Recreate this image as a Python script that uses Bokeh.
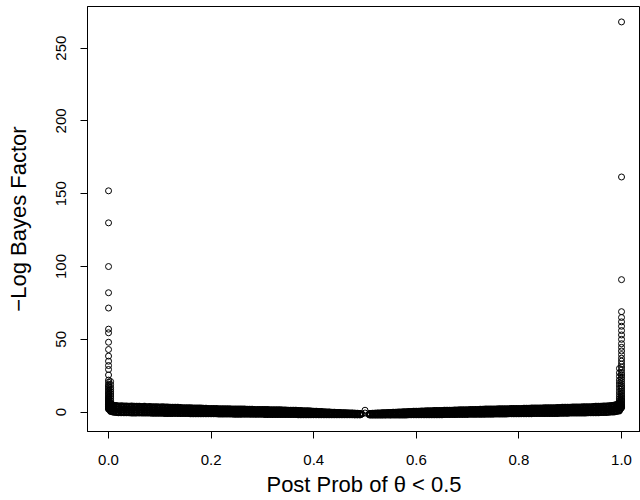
from bokeh.plotting import figure
from bokeh.models import Range1d, FixedTicker
from bokeh.embed import file_html
from bokeh.resources import INLINE

# ---------------- data ----------------
x_ticks = [0.0, 0.2, 0.4, 0.6, 0.8, 1.0]
x_tick_labels = ["0.0", "0.2", "0.4", "0.6", "0.8", "1.0"]
y_ticks = [0, 50, 100, 150, 200, 250]
y_tick_labels = ["0", "50", "100", "150", "200", "250"]
x_title = "Post Prob of θ < 0.5"
y_title = "\u2212Log Bayes Factor"

# points stacked at posterior probability 0
col0_y = [152, 130, 100, 82, 71.5, 57, 54.5, 48, 43, 38.5, 35, 32, 29.3, 25.5, 22,
          20.5, 19, 18, 17, 16, 15, 14, 13, 12.2, 11.4, 10.6, 9.8, 9.1, 8.4, 7.8,
          7.2, 6.6, 6.0, 5.5, 5.0, 4.5, 4.0, 3.6, 3.2, 2.8, 2.4, 2.0]
col0b_x = 0.004
col0b_y = [21, 19, 17, 15.5, 14, 12.5, 11, 9.5, 8, 6.8, 5.6, 4.6, 3.6, 2.8]
# points stacked at posterior probability 1
col1_y = [268, 161.5, 91, 69, 65, 62, 59, 56, 53, 50, 47, 44.5, 42, 39.5, 37, 35, 33,
          31, 29, 27, 25.5, 24, 22.5, 21, 19.5, 18, 16.8, 15.6, 14.4, 13.2, 12, 11,
          10, 9, 8.2, 7.4, 6.6, 5.9, 5.2, 4.6, 4.0, 3.5, 3.0]
col1b_x = 0.996
col1b_y = [30, 27, 24.5, 22, 20, 18, 16, 14, 12.2, 10.6, 9.2, 8, 6.9, 5.9, 5, 4.2, 3.4]

corner_x = [0.001, 0.002, 0.003, 0.997, 0.998, 0.999]
corner_y = [2.2, 1.7, 1.3, 1.8, 2.3, 2.8]

band_left_x = [0.005, 0.010, 0.015, 0.020, 0.025, 0.030, 0.035, 0.040, 0.045, 0.050,
               0.055, 0.060, 0.065, 0.070, 0.075, 0.080, 0.085, 0.090, 0.095, 0.100,
               0.105, 0.110, 0.115, 0.120, 0.125, 0.130, 0.135, 0.140, 0.145, 0.150,
               0.155, 0.160, 0.165, 0.170, 0.175, 0.180, 0.185, 0.190, 0.195, 0.200,
               0.205, 0.210, 0.215, 0.220, 0.225, 0.230, 0.235, 0.240, 0.245, 0.250,
               0.255, 0.260, 0.265, 0.270, 0.275, 0.280, 0.285, 0.290, 0.295, 0.300,
               0.305, 0.310, 0.315, 0.320, 0.325, 0.330, 0.335, 0.340, 0.345, 0.350,
               0.355, 0.360, 0.365, 0.370, 0.375, 0.380, 0.385, 0.390, 0.395, 0.400,
               0.405, 0.410, 0.415, 0.420, 0.425, 0.430, 0.435, 0.440, 0.445, 0.450,
               0.455, 0.460, 0.465, 0.470, 0.475, 0.480, 0.485, 0.490]
band_left_top = [5.5, 4.6, 4.3, 4.1, 4.2, 4.0, 4.1, 3.9, 4.0, 3.8,
                 3.9, 3.8, 3.7, 3.8, 3.6, 3.7, 3.5, 3.6, 3.5, 3.4,
                 3.5, 3.3, 3.3, 3.2, 3.2, 3.1, 3.1, 3.0, 2.9, 2.9,
                 2.8, 2.8, 2.7, 2.7, 2.6, 2.6, 2.5, 2.5, 2.4, 2.4,
                 2.3, 2.3, 2.2, 2.2, 2.2, 2.1, 2.1, 2.0, 2.0, 2.0,
                 1.9, 1.9, 1.9, 1.8, 1.8, 1.8, 1.7, 1.7, 1.7, 1.6,
                 1.6, 1.6, 1.5, 1.5, 1.4, 1.4, 1.4, 1.3, 1.3, 1.2,
                 1.2, 1.1, 1.1, 1.0, 1.0, 0.8, 0.7, 0.7, 0.6, 0.5,
                 0.4, 0.3, 0.2, 0.1, 0.0, -0.1, -0.2, -0.3, -0.4, -0.5,
                 -0.6, -0.6, -0.7, -0.8, -0.8, -0.9, -1.0, -1.1]
band_left_hi = [4.5, 3.8, 3.5, 3.4, 3.3, 3.4, 3.2, 3.3, 3.1, 3.1,
                3.2, 3.0, 3.0, 2.9, 3.0, 2.8, 2.8, 2.7, 2.8, 2.6,
                2.6, 2.5, 2.6, 2.4, 2.3, 2.4, 2.2, 2.2, 2.1, 2.0,
                2.1, 1.9, 1.9, 1.8, 1.7, 1.8, 1.6, 1.6, 1.5, 1.5,
                1.6, 1.4, 1.4, 1.3, 1.4, 1.3, 1.2, 1.3, 1.2, 1.2,
                1.1, 1.2, 1.1, 1.1, 1.0, 1.1, 1.0, 1.0, 0.9, 1.0,
                0.9, 0.9, 0.8, 0.9, 0.8, 0.7, 0.8, 0.7, 0.7, 0.6,
                0.6, 0.5, 0.5, 0.4, 0.4, 0.3, 0.3, 0.2, 0.2, 0.1,
                0.0, -0.1, -0.1, -0.2, -0.3, -0.3, -0.4, -0.5, -0.5, -0.6,
                -0.7, -0.7, -0.8, -0.9, -0.9, -1.0, -1.1, -1.2]
band_left_mid = [2.8, 2.2, 1.9, 1.9, 1.7, 1.8, 1.7, 1.8, 1.6, 1.6,
                 1.7, 1.5, 1.6, 1.4, 1.5, 1.4, 1.4, 1.3, 1.4, 1.2,
                 1.3, 1.2, 1.2, 1.1, 1.1, 1.1, 1.0, 1.0, 0.9, 0.9,
                 0.9, 0.8, 0.8, 0.7, 0.7, 0.7, 0.6, 0.6, 0.5, 0.5,
                 0.6, 0.5, 0.4, 0.4, 0.4, 0.4, 0.3, 0.3, 0.3, 0.3,
                 0.2, 0.3, 0.2, 0.2, 0.1, 0.2, 0.1, 0.1, 0.0, 0.1,
                 0.0, 0.0, -0.1, 0.0, -0.1, -0.1, -0.1, -0.2, -0.2, -0.2,
                 -0.3, -0.3, -0.3, -0.4, -0.4, -0.4, -0.4, -0.5, -0.5, -0.6,
                 -0.6, -0.7, -0.7, -0.7, -0.8, -0.8, -0.9, -0.9, -1.0, -1.0,
                 -1.1, -1.1, -1.1, -1.2, -1.2, -1.3, -1.3, -1.4]
band_left_lo = [1.0, 0.6, 0.4, 0.3, 0.3, 0.2, 0.3, 0.2, 0.2, 0.1,
                0.2, 0.1, 0.1, 0.0, 0.1, 0.0, 0.0, -0.1, 0.0, -0.1,
                -0.1, -0.1, -0.2, -0.1, -0.2, -0.2, -0.2, -0.3, -0.2, -0.3,
                -0.3, -0.3, -0.3, -0.4, -0.3, -0.4, -0.4, -0.4, -0.5, -0.4,
                -0.5, -0.5, -0.5, -0.5, -0.6, -0.5, -0.6, -0.6, -0.6, -0.7,
                -0.6, -0.7, -0.7, -0.7, -0.7, -0.8, -0.7, -0.8, -0.8, -0.8,
                -0.9, -0.8, -0.9, -0.9, -0.9, -1.0, -0.9, -1.0, -1.0, -1.0,
                -1.1, -1.0, -1.1, -1.1, -1.1, -1.2, -1.1, -1.2, -1.2, -1.2,
                -1.3, -1.2, -1.3, -1.3, -1.3, -1.4, -1.3, -1.4, -1.4, -1.4,
                -1.5, -1.4, -1.5, -1.5, -1.5, -1.6, -1.6, -1.6]
band_left_bot = [0.6, 0.1, -0.1, -0.2, -0.2, -0.3, -0.3, -0.3, -0.4, -0.4,
                 -0.4, -0.4, -0.5, -0.5, -0.5, -0.5, -0.6, -0.6, -0.6, -0.6,
                 -0.6, -0.7, -0.7, -0.7, -0.7, -0.7, -0.8, -0.8, -0.8, -0.8,
                 -0.8, -0.9, -0.9, -0.9, -0.9, -0.9, -1.0, -1.0, -1.0, -1.0,
                 -1.0, -1.0, -1.1, -1.1, -1.1, -1.1, -1.1, -1.1, -1.2, -1.2,
                 -1.2, -1.2, -1.2, -1.2, -1.3, -1.3, -1.3, -1.3, -1.3, -1.3,
                 -1.4, -1.4, -1.4, -1.4, -1.4, -1.4, -1.5, -1.5, -1.5, -1.5,
                 -1.5, -1.5, -1.5, -1.6, -1.6, -1.6, -1.6, -1.6, -1.6, -1.6,
                 -1.6, -1.7, -1.7, -1.7, -1.7, -1.7, -1.7, -1.7, -1.7, -1.7,
                 -1.7, -1.7, -1.7, -1.7, -1.7, -1.7, -1.7, -1.7]

band_right_x = [0.510, 0.515, 0.520, 0.525, 0.530, 0.535, 0.540, 0.545, 0.550, 0.555,
                0.560, 0.565, 0.570, 0.575, 0.580, 0.585, 0.590, 0.595, 0.600, 0.605,
                0.610, 0.615, 0.620, 0.625, 0.630, 0.635, 0.640, 0.645, 0.650, 0.655,
                0.660, 0.665, 0.670, 0.675, 0.680, 0.685, 0.690, 0.695, 0.700, 0.705,
                0.710, 0.715, 0.720, 0.725, 0.730, 0.735, 0.740, 0.745, 0.750, 0.755,
                0.760, 0.765, 0.770, 0.775, 0.780, 0.785, 0.790, 0.795, 0.800, 0.805,
                0.810, 0.815, 0.820, 0.825, 0.830, 0.835, 0.840, 0.845, 0.850, 0.855,
                0.860, 0.865, 0.870, 0.875, 0.880, 0.885, 0.890, 0.895, 0.900, 0.905,
                0.910, 0.915, 0.920, 0.925, 0.930, 0.935, 0.940, 0.945, 0.950, 0.955,
                0.960, 0.965, 0.970, 0.975, 0.980, 0.985, 0.990, 0.995]
band_right_top = [-1.1, -1.0, -0.9, -0.8, -0.7, -0.6, -0.6, -0.5, -0.4, -0.3,
                  -0.2, -0.1, 0.0, 0.1, 0.1, 0.2, 0.3, 0.4, 0.4, 0.5,
                  0.6, 0.6, 0.7, 0.8, 0.8, 0.9, 0.9, 1.0, 1.0, 1.1,
                  1.1, 1.2, 1.2, 1.3, 1.3, 1.4, 1.4, 1.5, 1.5, 1.6,
                  1.6, 1.7, 1.7, 1.8, 1.8, 1.9, 1.9, 2.0, 2.0, 2.0,
                  2.1, 2.1, 2.2, 2.2, 2.2, 2.3, 2.3, 2.4, 2.4, 2.4,
                  2.5, 2.5, 2.5, 2.6, 2.6, 2.7, 2.7, 2.7, 2.8, 2.8,
                  2.9, 2.9, 2.9, 3.0, 3.0, 3.1, 3.1, 3.2, 3.2, 3.3,
                  3.3, 3.4, 3.4, 3.5, 3.5, 3.6, 3.6, 3.7, 3.8, 3.8,
                  3.9, 4.0, 4.1, 4.2, 4.3, 4.5, 5.0, 6.0]
band_right_hi = [-1.2, -1.1, -1.0, -1.0, -0.9, -0.8, -0.8, -0.7, -0.6, -0.6,
                 -0.5, -0.4, -0.4, -0.3, -0.2, -0.2, -0.1, 0.0, 0.0, 0.1,
                 0.1, 0.2, 0.2, 0.3, 0.3, 0.4, 0.4, 0.5, 0.5, 0.6,
                 0.5, 0.6, 0.7, 0.6, 0.7, 0.8, 0.7, 0.8, 0.9, 0.8,
                 0.9, 1.0, 0.9, 1.0, 1.1, 1.0, 1.1, 1.2, 1.1, 1.2,
                 1.3, 1.2, 1.3, 1.4, 1.3, 1.4, 1.5, 1.4, 1.5, 1.6,
                 1.5, 1.6, 1.7, 1.6, 1.7, 1.8, 1.7, 1.8, 1.9, 1.8,
                 1.9, 2.0, 2.0, 2.1, 2.0, 2.1, 2.2, 2.2, 2.3, 2.3,
                 2.4, 2.4, 2.5, 2.5, 2.6, 2.7, 2.7, 2.8, 2.9, 2.9,
                 3.0, 3.1, 3.2, 3.3, 3.4, 3.6, 4.0, 5.0]
band_right_mid = [-1.5, -1.4, -1.3, -1.3, -1.2, -1.2, -1.2, -1.1, -1.1, -1.0,
                  -1.0, -0.9, -0.9, -0.9, -0.8, -0.8, -0.7, -0.7, -0.7, -0.6,
                  -0.6, -0.5, -0.5, -0.5, -0.4, -0.4, -0.4, -0.3, -0.3, -0.3,
                  -0.3, -0.2, -0.2, -0.2, -0.1, -0.1, -0.1, 0.0, -0.1, 0.0,
                  0.0, 0.1, 0.0, 0.1, 0.1, 0.2, 0.1, 0.2, 0.2, 0.3,
                  0.3, 0.3, 0.4, 0.3, 0.4, 0.4, 0.5, 0.5, 0.5, 0.6,
                  0.5, 0.6, 0.6, 0.6, 0.7, 0.7, 0.7, 0.8, 0.8, 0.8,
                  0.8, 0.9, 0.9, 0.9, 0.9, 1.0, 1.0, 1.0, 1.1, 1.1,
                  1.2, 1.2, 1.2, 1.3, 1.3, 1.4, 1.4, 1.5, 1.5, 1.6,
                  1.7, 1.7, 1.8, 1.9, 2.0, 2.2, 2.6, 3.3]
band_right_lo = [-1.7, -1.7, -1.6, -1.7, -1.6, -1.6, -1.6, -1.5, -1.6, -1.5,
                 -1.5, -1.5, -1.4, -1.5, -1.4, -1.4, -1.4, -1.3, -1.4, -1.3,
                 -1.3, -1.3, -1.2, -1.3, -1.2, -1.2, -1.2, -1.1, -1.2, -1.1,
                 -1.1, -1.1, -1.0, -1.1, -1.0, -1.0, -1.0, -0.9, -1.0, -0.9,
                 -0.9, -0.9, -0.8, -0.9, -0.8, -0.8, -0.8, -0.7, -0.8, -0.7,
                 -0.7, -0.7, -0.6, -0.7, -0.6, -0.6, -0.6, -0.5, -0.6, -0.5,
                 -0.5, -0.5, -0.4, -0.5, -0.4, -0.4, -0.4, -0.3, -0.4, -0.3,
                 -0.3, -0.3, -0.2, -0.3, -0.2, -0.2, -0.1, -0.2, -0.1, -0.1,
                 0.0, -0.1, 0.0, 0.1, 0.0, 0.1, 0.2, 0.1, 0.2, 0.3,
                 0.3, 0.4, 0.4, 0.5, 0.6, 0.8, 1.1, 1.6]
band_right_bot = [-1.8, -1.8, -1.8, -1.8, -1.8, -1.8, -1.8, -1.8, -1.8, -1.8,
                  -1.8, -1.8, -1.8, -1.8, -1.8, -1.7, -1.7, -1.7, -1.7, -1.7,
                  -1.7, -1.7, -1.7, -1.6, -1.6, -1.6, -1.6, -1.6, -1.6, -1.5,
                  -1.5, -1.5, -1.5, -1.5, -1.4, -1.4, -1.4, -1.4, -1.4, -1.3,
                  -1.3, -1.3, -1.3, -1.3, -1.2, -1.2, -1.2, -1.2, -1.2, -1.1,
                  -1.1, -1.1, -1.1, -1.1, -1.0, -1.0, -1.0, -1.0, -1.0, -0.9,
                  -0.9, -0.9, -0.9, -0.9, -0.8, -0.8, -0.8, -0.8, -0.8, -0.7,
                  -0.7, -0.7, -0.7, -0.7, -0.6, -0.6, -0.6, -0.6, -0.5, -0.5,
                  -0.5, -0.5, -0.4, -0.4, -0.4, -0.3, -0.3, -0.3, -0.2, -0.2,
                  -0.1, -0.1, 0.0, 0.1, 0.2, 0.3, 0.6, 1.0]

# the few points around posterior probability 0.5
center_x = [0.494, 0.500, 0.500, 0.507]
center_y = [-1.3, 1.3, -0.6, -1.5]

# ---------------- assemble ----------------
left_rows = [band_left_top, band_left_hi, band_left_mid, band_left_lo, band_left_bot]
right_rows = [band_right_top, band_right_hi, band_right_mid, band_right_lo, band_right_bot]

sparse_x = ([0.0] * len(col0_y) + [col0b_x] * len(col0b_y)
            + [1.0] * len(col1_y) + [col1b_x] * len(col1b_y) + corner_x + center_x)
sparse_y = col0_y + col0b_y + col1_y + col1b_y + corner_y + center_y
band_x, band_y = [], []
for row in left_rows:
    band_x += band_left_x
    band_y += row
for row in right_rows:
    band_x += band_right_x
    band_y += row

p = figure(width=640, height=500, output_backend="svg", toolbar_location=None,
           x_range=Range1d(-0.041, 1.037), y_range=Range1d(-13.3, 278.6),
           min_border_left=87, min_border_right=0, min_border_top=6,
           min_border_bottom=69)

p.background_fill_color = "white"
p.border_fill_color = "white"
p.outline_line_color = "black"
p.outline_line_width = 1
p.xgrid.visible = False
p.ygrid.visible = False

p.scatter(band_x, band_y, marker="circle", size=6, fill_color=None,
          line_color="black", line_width=1.5)
p.scatter(sparse_x, sparse_y, marker="circle", size=6, fill_color=None,
          line_color="black", line_width=1)

FONT = "Liberation Sans"

p.xaxis.ticker = FixedTicker(ticks=x_ticks)
p.xaxis.major_label_overrides = dict(zip(x_ticks, x_tick_labels))
p.yaxis.ticker = FixedTicker(ticks=y_ticks)
p.yaxis.major_label_overrides = dict(zip(y_ticks, y_tick_labels))

for ax in (p.xaxis[0], p.yaxis[0]):
    ax.axis_line_color = "black"
    ax.major_tick_line_color = "black"
    ax.minor_tick_line_color = None
    ax.major_tick_in = 0
    ax.major_tick_out = 7
    ax.major_label_text_font = FONT
    ax.major_label_text_font_size = "15px"
    ax.major_label_text_color = "black"
    ax.axis_label_text_font = FONT
    ax.axis_label_text_font_size = "22px"
    ax.axis_label_text_font_style = "normal"
    ax.axis_label_text_color = "black"

p.xaxis.axis_label = x_title
p.yaxis.axis_label = y_title
p.yaxis.major_label_orientation = "vertical"
p.xaxis.major_label_standoff = 16
p.xaxis.axis_label_standoff = 4
p.yaxis.major_label_standoff = 14
p.yaxis.axis_label_standoff = 23

open("out.html", "w").write(file_html(p, INLINE))
